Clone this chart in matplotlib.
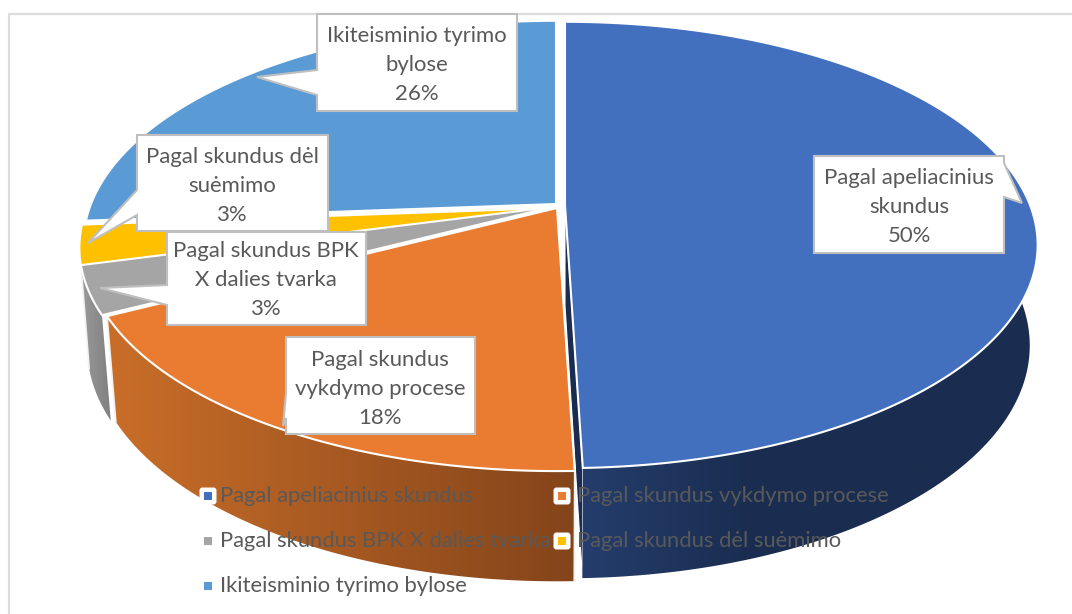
import numpy as np
import matplotlib
matplotlib.use("Agg")
import matplotlib.pyplot as plt
from matplotlib.patches import Polygon, FancyBboxPatch, Rectangle
from matplotlib.colors import LinearSegmentedColormap

categories = ["Pagal apeliacinius skundus", "Pagal skundus vykdymo procese",
              "Pagal skundus BPK X dalies tvarka", "Pagal skundus dėl suėmimo",
              "Ikiteisminio tyrimo bylose"]
wrapped = ["Pagal apeliacinius\nskundus", "Pagal skundus\nvykdymo procese",
           "Pagal skundus BPK\nX dalies tvarka", "Pagal skundus dėl\nsuėmimo",
           "Ikiteisminio tyrimo\nbylose"]
shares = [49.5, 17.9, 3.47, 2.92, 26.21]
colors = ["#4270BF", "#E97C30", "#A5A5A5", "#FFC000", "#5B9BD5"]
wall_shades = [("#243D6C", "#1A2D50"), ("#C96E29", "#84441A"), ("#9A9A9A", "#808080"), None, None]

FONT = "Lato"
TXT = "#595959"
FS_LABEL = 15.9
FS_LEGEND = 15.85
apex = [(565, 205), (557, 208), (552, 207), (552, 208), (556, 204)]

fig = plt.figure(figsize=(10.72, 6.14), dpi=100)
ax = fig.add_axes([0, 0, 1, 1])
ax.set_xlim(0, 1072)
ax.set_ylim(614, 0)
ax.axis("off")

ax.plot([1072, 9, 9], [14, 14, 614], color="#DCDCDC", lw=1.6, zorder=0)


def top(theta, a):
    u, v = np.cos(theta), np.sin(theta)
    s = 1 / (1 + 0.179 * v)
    return a[0] + 465 * u * s, a[1] - 216 * v * s


def bottom(theta, a):
    u, v = np.cos(theta), np.sin(theta)
    s = 1 / (1 + 0.17 * v)
    return a[0] + 458 * u * s, a[1] + 101 - 226 * v * s


edges = 90 - np.cumsum([0] + shares) * 3.6
spans = [(np.deg2rad(edges[i]), np.deg2rad(edges[i + 1])) for i in range(len(shares))]


def wall(i, t0, t1, z, ramp_px=None):
    t = np.linspace(t0, t1, 120)
    xa, ya = top(t, apex[i])
    xb, yb = bottom(t, apex[i])
    pts = np.r_[np.c_[xa, ya], np.c_[xb, yb][::-1]]
    poly = Polygon(pts, closed=True, fc="none", ec="none", zorder=z)
    ax.add_patch(poly)
    cmap = LinearSegmentedColormap.from_list("w", wall_shades[i])
    xl, xh = pts[:, 0].min(), pts[:, 0].max()
    ramp = ramp_px if ramp_px else xh - xl
    grad = np.clip((np.linspace(xl, xh, 256) - xl) / ramp, 0, 1)[None, :]
    im = ax.imshow(grad, extent=(xl, xh, 600, 200), cmap=cmap, aspect="auto", zorder=z)
    im.set_clip_path(poly)


# blue cut face visible as a dark sliver
b0 = spans[0][1]
xa, ya = top(b0, apex[0])
xb, yb = bottom(b0, apex[0])
ax.add_patch(Polygon([apex[0], (xa, ya), (xb, yb), (apex[0][0], apex[0][1] + 101)],
                     fc="#1A2D50", ec="white", lw=0.8, zorder=1))

wall(2, spans[2][1], spans[2][0], 1.2)
wall(1, spans[1][1], spans[1][0], 1.5)
wall(0, spans[0][1], np.deg2rad(15), 1.5, ramp_px=170)
# white seams at the slice corners
for i, th in [(1, spans[1][0]), (1, spans[1][1]), (2, spans[2][1])]:
    pa, pb = top(th, apex[i]), bottom(th, apex[i])
    ax.plot([pa[0], pb[0]], [pa[1], pb[1]], color="#F2F2F2", lw=1.3, zorder=1.8)

for i in [4, 3, 2, 1, 0]:
    t = np.linspace(spans[i][0], spans[i][1], 200)
    x, y = top(t, apex[i])
    ax.add_patch(Polygon(np.r_[[apex[i]], np.c_[x, y]], closed=True, fc=colors[i],
                         ec="white", lw=1.5, joinstyle="miter", zorder=2))

# callouts: box (x0, y0, x1, y1), side pointer, text centre
callouts = {
    2: ((167, 232, 366, 325), [(167, 285), (100, 288), (167, 305)], (266, 280)),
    3: ((137, 135, 328, 231), [(137, 190), (88, 243), (137, 215)], (232, 186)),
    4: ((317, 14, 517, 111), [(317, 70), (257, 77), (317, 95)], (417, 65)),
    1: ((286, 337, 475, 434), [(286, 393), (283, 426), (286, 418)], (380, 389)),
    0: ((814, 156, 1004, 253), [(1004, 163), (1022, 203), (1004, 197)], (909, 207)),
}
z = 3
for i, (b, ptr, c) in callouts.items():
    x0, y0, x1, y1 = b
    if ptr[0][0] == x0:
        verts = [(x0, y0), (x1, y0), (x1, y1), (x0, y1), ptr[2], ptr[1], ptr[0]]
    else:
        verts = [(x0, y0), (x1, y0), ptr[0], ptr[1], ptr[2], (x1, y1), (x0, y1)]
    ax.add_patch(Polygon(verts, closed=True, fc="white", ec="#BFBFBF", lw=1.5,
                         joinstyle="miter", zorder=z))
    ax.text(c[0], c[1], f"{wrapped[i]}\n{shares[i]:.0f}%", ha="center", va="center",
            family=FONT, fontsize=FS_LABEL, color=TXT, linespacing=1.56, zorder=z + 0.1)
    z += 0.2

# legend
slots = [(208, 496, 220), (562, 496, 577), (208, 541, 220), (562, 541, 577), (208, 586, 220)]
for i, (mx, my, tx) in enumerate(slots):
    ax.add_patch(FancyBboxPatch((mx - 6, my - 6), 12, 12, boxstyle="round,pad=2.5,rounding_size=3",
                                fc="white", ec="none", zorder=5))
    ax.add_patch(Rectangle((mx - 4, my - 4), 8, 8, fc=colors[i], ec="none", zorder=5.1))
    ax.text(tx, my, categories[i], ha="left", va="center", family=FONT, fontsize=FS_LEGEND,
            color=TXT, zorder=5.2)

fig.savefig("out.png", dpi=100)
